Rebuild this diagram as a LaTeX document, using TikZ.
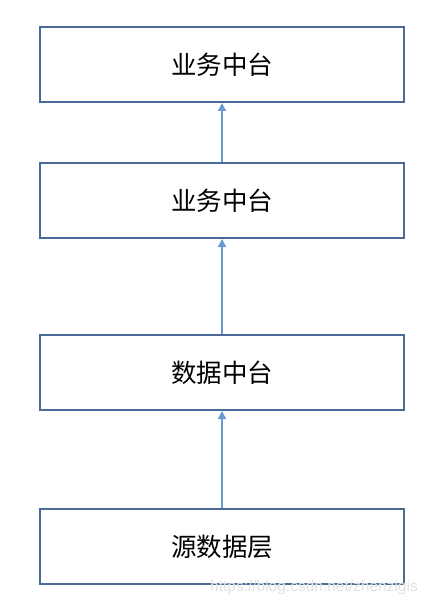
\documentclass[tikz,border=0pt]{standalone}
\usepackage{fontspec}
\newfontfamily\cjk{Noto Sans CJK SC}
\usetikzlibrary{arrows.meta}
\definecolor{boxline}{HTML}{4A6B98}
\definecolor{arrowline}{HTML}{6A9AD0}
\definecolor{wm}{HTML}{E2E2E2}
\begin{document}
\begin{tikzpicture}[x=1pt,y=-1pt,
  layerbox/.style={draw=boxline,line width=2pt,minimum width=364pt,minimum height=75pt,inner sep=0pt,font=\cjk\fontsize{25.5}{28}\selectfont},
  uparrow/.style={draw=arrowline,line width=1.6pt,-{Triangle[length=8pt,width=8pt]}}]
\useasboundingbox (0,0) rectangle (428,604);
\fill[white] (0,0) rectangle (428,604);
\node[layerbox] (b1) at (222,64.5) {业务中台};
\node[layerbox] (b2) at (222,200.5) {业务中台};
\node[layerbox] (b3) at (222,372.5) {数据中台};
\node[layerbox] (b4) at (222,546.5) {源数据层};
\draw[uparrow] (b2.north) -- (b1.south);
\draw[uparrow] (b3.north) -- (b2.south);
\draw[uparrow] (b4.north) -- (b3.south);
\node[text=wm,font=\fontspec{Liberation Sans}\fontsize{15.5}{17}\selectfont,anchor=east,inner sep=0pt] (wm) at (418,587) {https://blog.csdn.net/zhenzigis};
\end{tikzpicture}
\end{document}
